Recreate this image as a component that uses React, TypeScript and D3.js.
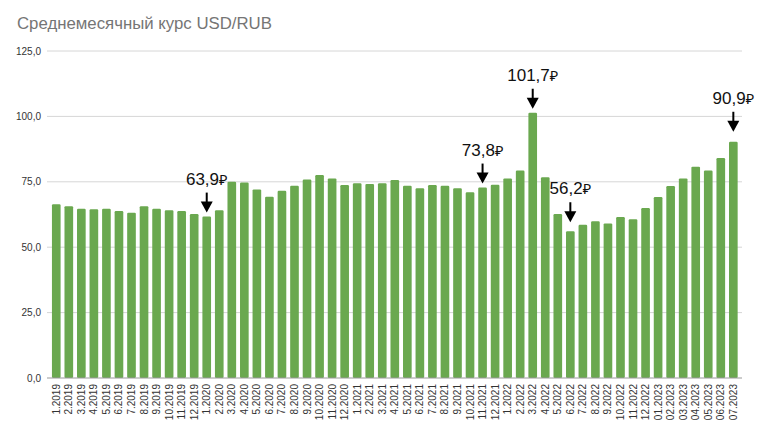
import React from "react";
import * as d3 from "d3";

const months: string[] = [
  "1.2019","2.2019","3.2019","4.2019","5.2019","6.2019","7.2019","8.2019","9.2019","10.2019","11.2019","12.2019",
  "1.2020","2.2020","3.2020","4.2020","5.2020","6.2020","7.2020","8.2020","9.2020","10.2020","11.2020","12.2020",
  "1.2021","2.2021","3.2021","4.2021","5.2021","6.2021","7.2021","8.2021","9.2021","10.2021","11.2021","12.2021",
  "1.2022","2.2022","3.2022","4.2022","5.2022","6.2022","7.2022","8.2022","9.2022","10.2022","11.2022","12.2022",
  "01.2023","02.2023","03.2023","04.2023","05.2023","06.2023","07.2023",
];

const rates: number[] = [
  66.4, 65.7, 64.7, 64.5, 64.7, 63.8, 63.2, 65.7, 64.7, 64.1, 63.8, 62.7,
  61.7, 64.1, 75.0, 74.7, 72.1, 69.3, 71.6, 73.5, 75.9, 77.6, 76.3, 73.8,
  74.4, 74.2, 74.4, 75.7, 73.5, 72.5, 73.8, 73.5, 72.5, 71.0, 72.8, 73.9,
  76.3, 79.3, 101.4, 76.7, 62.7, 56.1, 58.6, 59.9, 59.1, 61.5, 60.7, 65.0,
  69.2, 73.4, 76.3, 80.8, 79.3, 84.1, 90.3,
];

const yTicks: number[] = [0, 25, 50, 75, 100, 125];

const annotationIndex: number[] = [12, 34, 38, 41, 54];
const annotationLabels: string[] = ["63,9", "73,8", "101,7", "56,2", "90,9"];
const currencySign = "₽";
const annotationGaps: number[] = [4, 4, 4, 9, 10];

const W = 758;
const H = 429;
const left = 50;
const right = 739.6;
const gridLeft = 47;
const gridRight = 742;
const top = 51;
const bottom = 378;

export default function App() {
  const x = d3.scaleBand<string>().domain(months).range([left, right]).paddingInner(0.31).paddingOuter(0.155);
  const y = d3.scaleLinear().domain([0, 125]).range([bottom, top]);
  const fmt = (v: number) => v.toFixed(1).replace(".", ",");
  const font = "'Liberation Sans', Arial, 'DejaVu Sans', sans-serif";
  const arrowLen = 20;

  return (
    <svg width={W} height={H} style={{ position: "absolute", left: 0, top: 0, background: "#fff" }} fontFamily={font}>
      <rect x={0} y={0} width={W} height={H} fill="#fff" />
      <text x={17} y={29} fontSize={16.8} fill="#757575">Среднемесячный курс USD/RUB</text>
      {yTicks.map((t) => (
        <g key={t}>
          {t !== 0 && (
            <line x1={gridLeft} x2={gridRight} y1={y(t)} y2={y(t)} stroke="#d6d6d6" strokeWidth={1} />
          )}
          <text x={41} y={y(t)} dy="0.35em" textAnchor="end" fontSize={10} fill="#333">{fmt(t)}</text>
        </g>
      ))}
      {rates.map((v, i) => (
        <rect
          key={months[i]}
          x={x(months[i])}
          y={y(v)}
          width={x.bandwidth()}
          height={y(0) - y(v)}
          rx={1.2}
          fill="#6aa84f"
        />
      ))}
      <line x1={gridLeft} x2={gridRight} y1={y(0)} y2={y(0)} stroke="#999" strokeWidth={1} />
      {months.map((m) => {
        const cx = (x(m) as number) + x.bandwidth() / 2;
        return (
          <text
            key={m}
            transform={`translate(${cx},${bottom + 6}) rotate(-90)`}
            textAnchor="end"
            dy="0.35em"
            fontSize={10}
            fill="#333"
          >
            {m}
          </text>
        );
      })}
      {annotationIndex.map((idx, k) => {
        const cx = (x(months[idx]) as number) + x.bandwidth() / 2;
        const tip = y(rates[idx]) - annotationGaps[k];
        const start = tip - arrowLen;
        return (
          <g key={k}>
            <line x1={cx} x2={cx} y1={start} y2={tip - 9} stroke="#000" strokeWidth={2} />
            <path d={`M${cx - 6},${tip - 11} L${cx + 6},${tip - 11} L${cx},${tip} Z`} fill="#000" />
            <text x={cx} y={start - 8} textAnchor="middle" fontSize={17} fill="#111">
              {annotationLabels[k]}
              <tspan fontFamily="'Noto Sans', 'DejaVu Sans', sans-serif" fontSize={14.5}>{currencySign}</tspan>
            </text>
          </g>
        );
      })}
    </svg>
  );
}
